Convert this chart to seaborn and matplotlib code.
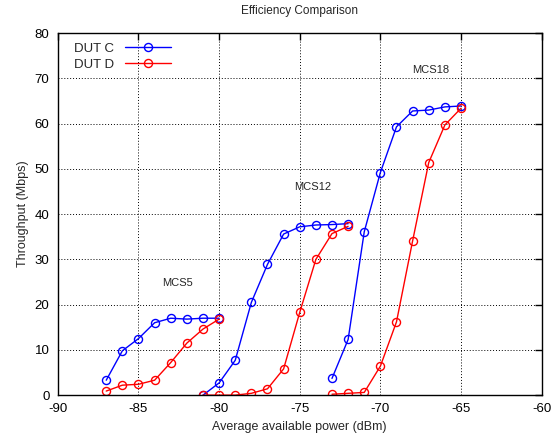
import numpy as np
import pandas as pd
import seaborn as sns
import matplotlib
matplotlib.use("Agg")
import matplotlib.pyplot as plt
from matplotlib.lines import Line2D

# Valori (dBm -> Mbps)
mcs5_power = [-87, -86, -85, -84, -83, -82, -81, -80]
mcs5_dut_c = [3.3, 9.8, 12.5, 16.0, 17.0, 16.8, 17.0, 17.0]
mcs5_dut_d = [0.9, 2.2, 2.4, 3.3, 7.2, 11.5, 14.6, 16.8]

mcs12_power = [-81, -80, -79, -78, -77, -76, -75, -74, -73, -72]
mcs12_dut_c = [0.0, 2.7, 7.7, 20.5, 28.9, 35.6, 37.2, 37.6, 37.7, 37.9]
mcs12_dut_d = [0.0, 0.0, 0.0, 0.4, 1.4, 5.8, 18.3, 30.0, 35.7, 37.3]

mcs18_power = [-73, -72, -71, -70, -69, -68, -67, -66, -65]
mcs18_dut_c = [3.7, 12.3, 36.1, 49.2, 59.3, 62.8, 63.0, 63.7, 63.9]
mcs18_dut_d = [0.2, 0.4, 0.6, 6.4, 16.2, 34.1, 51.4, 59.7, 63.4]

duts = ["DUT C", "DUT D"]
colori = {"DUT C": "#0000ff", "DUT D": "#ff0000"}
mcs_labels = ["MCS5", "MCS12", "MCS18"]
mcs_label_pos = [(-82.6, 24.7), (-74.2, 46.0), (-66.9, 71.9)]

# Tabella lunga per seaborn
righe = []
for mcs, power, c, d in [("MCS5", mcs5_power, mcs5_dut_c, mcs5_dut_d),
                         ("MCS12", mcs12_power, mcs12_dut_c, mcs12_dut_d),
                         ("MCS18", mcs18_power, mcs18_dut_c, mcs18_dut_d)]:
    for p, v in zip(power, c):
        righe.append({"power": p, "tput": v, "dut": "DUT C", "mcs": mcs})
    for p, v in zip(power, d):
        righe.append({"power": p, "tput": v, "dut": "DUT D", "mcs": mcs})
df = pd.DataFrame(righe)

sns.set_style("white")
plt.rcParams["font.family"] = ["Liberation Sans", "DejaVu Sans"]
plt.rcParams["axes.unicode_minus"] = False

fig = plt.figure(figsize=(5.51, 4.48), dpi=100)
ax = fig.add_axes([0.105, 0.118, 0.878, 0.808])

for dut in duts:
    for mcs in mcs_labels:
        sub = df[(df["dut"] == dut) & (df["mcs"] == mcs)]
        sns.lineplot(data=sub, x="power", y="tput", color=colori[dut],
                     estimator=None, sort=False, marker="o", markersize=5.8,
                     markerfacecolor="none", markeredgecolor=colori[dut],
                     markeredgewidth=1.0, linewidth=1.0, ax=ax, legend=False)

# Etichette MCS
for lab, (x, y) in zip(mcs_labels, mcs_label_pos):
    ax.text(x, y, lab, fontsize=8, ha="center", va="center")

ax.set_xlim(-90, -60)
ax.set_ylim(0, 80)
ax.set_xticks(range(-90, -59, 5))
ax.set_yticks(range(0, 81, 10))
ax.grid(True, color="black", linestyle=(0, (1, 2)), linewidth=0.7)
ax.tick_params(direction="in", top=True, right=True, length=5, width=1,
               labelsize=9.5, pad=6, colors="black")
for s in ax.spines.values():
    s.set_color("black")
    s.set_linewidth(1.0)

ax.set_xlabel("Average available power (dBm)", fontsize=9)
ax.set_ylabel("Throughput (Mbps)", fontsize=9)
ax.set_title("Efficiency Comparison", fontsize=8.5, pad=14)

# Legenda stile gnuplot (testo a sinistra, campione a destra)
handles = [Line2D([], [], color=colori[d], marker="o", markerfacecolor="none",
                  linewidth=1.0, markersize=5.8) for d in duts]
ax.legend(handles, duts, loc="upper left", frameon=False, markerfirst=False,
          fontsize=9.5, handlelength=3.5, borderaxespad=0.3, labelspacing=0.3,
          bbox_to_anchor=(0.015, 1.0))

fig.savefig("out.png", dpi=100)
